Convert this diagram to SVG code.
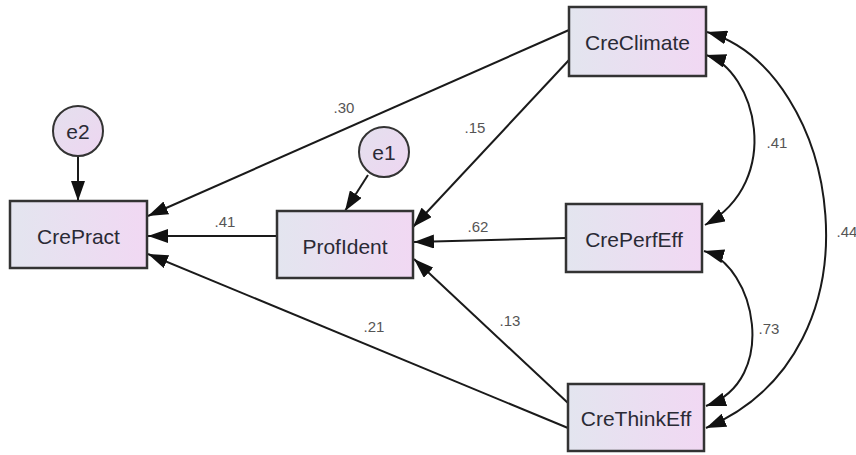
<svg xmlns="http://www.w3.org/2000/svg" width="856" height="455" viewBox="0 0 856 455">
  <defs>
    <linearGradient id="boxFill" x1="0" y1="0" x2="1" y2="0">
      <stop offset="0" stop-color="#e3e5ef"/>
      <stop offset="1" stop-color="#f1d8f3"/>
    </linearGradient>
    <linearGradient id="circFill" x1="0" y1="0" x2="1" y2="1">
      <stop offset="0" stop-color="#e4e0ee"/>
      <stop offset="1" stop-color="#eed6f1"/>
    </linearGradient>
    <marker id="arrow" viewBox="0 0 20 14" refX="20" refY="7" markerWidth="20" markerHeight="14" markerUnits="userSpaceOnUse" orient="auto-start-reverse">
      <path d="M0,0 L20,7 L0,14 Z" fill="#111"/>
    </marker>
    <style>
      .box { fill: url(#boxFill); stroke: #333; stroke-width: 2.5; }
      .circ { fill: url(#circFill); stroke: #333; stroke-width: 2; }
      .lbl { font-family: "Liberation Sans", Arial, sans-serif; font-size: 21px; fill: #2a2a35; text-anchor: middle; dominant-baseline: central; }
      .coef { font-family: "Liberation Sans", Arial, sans-serif; font-size: 15px; fill: #555; text-anchor: middle; dominant-baseline: central; }
      .edge { fill: none; stroke: #1a1a1a; stroke-width: 2; marker-end: url(#arrow); }
      .cov { fill: none; stroke: #1a1a1a; stroke-width: 2; marker-start: url(#arrow); marker-end: url(#arrow); }
    </style>
  </defs>

  <g id="connectors">
    <line class="edge" x1="569" y1="30" x2="148" y2="216"/>
    <line class="edge" x1="569" y1="60" x2="413" y2="227"/>
    <line class="edge" x1="277" y1="236" x2="148" y2="236"/>
    <line class="edge" x1="566" y1="238" x2="414" y2="242"/>
    <line class="edge" x1="568" y1="403" x2="414" y2="259"/>
    <line class="edge" x1="568" y1="428" x2="148" y2="254"/>
    <line class="edge" x1="78" y1="157" x2="78" y2="201"/>
    <line class="edge" x1="368" y1="175" x2="345" y2="211"/>
    <path class="cov" d="M706,55 C755,70 785,180 705,225"/>
    <path class="cov" d="M707,32 C840,70 890,350 706,428"/>
    <path class="cov" d="M704,251 C755,265 780,380 706,406"/>
    <text class="coef" x="344" y="107">.30</text>
    <text class="coef" x="475" y="127">.15</text>
    <text class="coef" x="225" y="221">.41</text>
    <text class="coef" x="478" y="226">.62</text>
    <text class="coef" x="510" y="320">.13</text>
    <text class="coef" x="374" y="326">.21</text>
    <text class="coef" x="777" y="142">.41</text>
    <text class="coef" x="847" y="231">.44</text>
    <text class="coef" x="769" y="328">.73</text>
  </g>

  <g id="e2">
    <circle class="circ" cx="78" cy="131" r="25"/>
    <text class="lbl" x="78" y="131">e2</text>
  </g>
  <g id="e1">
    <circle class="circ" cx="384" cy="152" r="25"/>
    <text class="lbl" x="384" y="152">e1</text>
  </g>
  <g id="CrePract">
    <rect class="box" x="10" y="201" width="137" height="67"/>
    <text class="lbl" x="78.5" y="236">CrePract</text>
  </g>
  <g id="ProfIdent">
    <rect class="box" x="277" y="211" width="136" height="67"/>
    <text class="lbl" x="345" y="246">ProfIdent</text>
  </g>
  <g id="CreClimate">
    <rect class="box" x="569" y="7" width="137" height="69"/>
    <text class="lbl" x="637.5" y="42">CreClimate</text>
  </g>
  <g id="CrePerfEff">
    <rect class="box" x="566" y="204" width="136" height="68"/>
    <text class="lbl" x="634" y="239">CrePerfEff</text>
  </g>
  <g id="CreThinkEff">
    <rect class="box" x="568" y="384" width="136" height="67"/>
    <text class="lbl" x="636" y="418">CreThinkEff</text>
  </g>
</svg>
